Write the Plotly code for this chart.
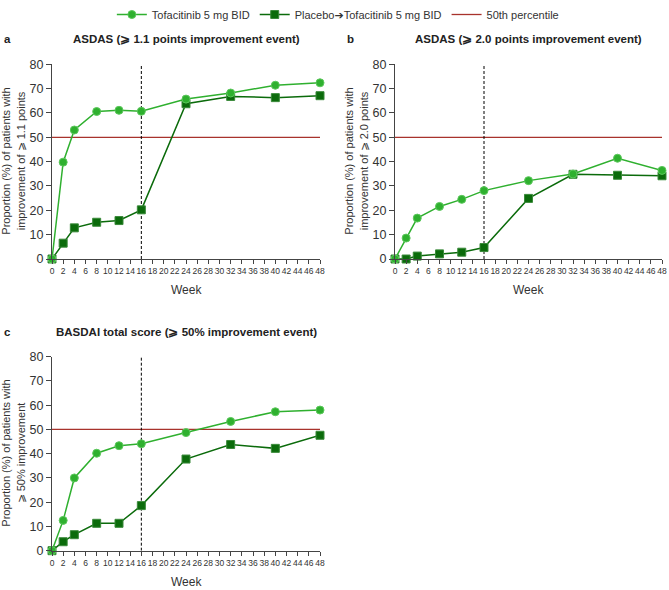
import plotly.graph_objects as go

weeks = [0, 2, 4, 8, 12, 16, 24, 32, 40, 48]

a_tofa = [0, 39.8, 53.0, 60.6, 61.1, 60.7, 65.7, 68.2, 71.4, 72.4]
a_plac = [0, 6.5, 12.8, 15.1, 15.8, 20.2, 63.8, 66.8, 66.3, 67.1]

b_tofa = [0, 8.6, 16.8, 21.6, 24.5, 28.1, 32.2, 34.9, 41.4, 36.4]
b_plac = [0, 0.0, 1.2, 2.1, 2.8, 4.7, 24.9, 34.8, 34.4, 34.2]

c_tofa = [0, 12.5, 30.0, 40.2, 43.3, 44.1, 48.7, 53.3, 57.3, 58.0]
c_plac = [0, 3.7, 6.6, 11.3, 11.3, 18.6, 37.8, 43.8, 42.2, 47.6]

x_ticks = list(range(0, 49, 2))
y_ticks = [0, 10, 20, 30, 40, 50, 60, 70, 80]
threshold = 50
cutoff_week = 16

series_names = ["Tofacitinib 5 mg BID",
                "Placebo<span style=\"font-family:'DejaVu Sans'\">\u2794</span>Tofacitinib 5 mg BID",
                "50th percentile"]
titles = ["ASDAS (\u2a7e 1.1 points improvement event)",
          "ASDAS (\u2a7e 2.0 points improvement event)",
          "BASDAI total score (\u2a7e 50% improvement event)"]
letters = ["a", "b", "c"]
ytitles = ["Proportion (%) of patients with<br>improvement of \u2a7e 1.1 points",
           "Proportion (%) of patients with<br>improvement of \u2a7e 2.0 points",
           "Proportion (%) of patients with<br>\u2a7e 50% improvement"]

LIGHT = "#2fb02f"
DARK = "#0b6b0b"
RED = "#a8332c"
AXC = "#444444"

W, H = 669, 590
fig = go.Figure()

panels = [
    (52, 320, 64.3, 259.0),
    (395, 662, 64.3, 259.0),
    (52, 320, 356.7, 550.7),
]
data = [(a_tofa, a_plac), (b_tofa, b_plac), (c_tofa, c_plac)]

for i, ((x0, x1, yt, yb), (tofa, plac)) in enumerate(zip(panels, data)):
    n = "" if i == 0 else str(i + 1)
    xa = "x" + n
    ya = "y" + n
    fig.add_trace(go.Scatter(x=[0, 48], y=[threshold, threshold], mode="lines",
                             line=dict(color=RED, width=1.3), name=series_names[2],
                             showlegend=(i == 0), legendrank=3, xaxis=xa, yaxis=ya,
                             hoverinfo="skip"))
    fig.add_trace(go.Scatter(x=[cutoff_week, cutoff_week], y=[0, 80], mode="lines",
                             line=dict(color="black", width=1, dash="3px,2px"),
                             showlegend=False, xaxis=xa, yaxis=ya, hoverinfo="skip"))
    fig.add_trace(go.Scatter(x=weeks, y=plac, mode="lines+markers", name=series_names[1],
                             line=dict(color=DARK, width=1.5),
                             marker=dict(symbol="square", size=8, color=DARK,
                                         line=dict(color="#3a8a3a", width=1)),
                             showlegend=(i == 0), legendrank=2, xaxis=xa, yaxis=ya,
                             cliponaxis=False))
    fig.add_trace(go.Scatter(x=weeks, y=tofa, mode="lines+markers", name=series_names[0],
                             line=dict(color=LIGHT, width=1.5),
                             marker=dict(symbol="circle", size=8, color=LIGHT,
                                         line=dict(color="#5cc85c", width=1)),
                             showlegend=(i == 0), legendrank=1, xaxis=xa, yaxis=ya,
                             cliponaxis=False))

    fig.layout["xaxis" + n] = dict(
        domain=[x0 / W, x1 / W], range=[0, 48], anchor=ya,
        tickvals=x_ticks, ticktext=[str(t) for t in x_ticks], tickangle=0,
        showline=True, linecolor=AXC, linewidth=1, ticks="outside", ticklen=4,
        tickcolor=AXC, tickfont=dict(size=8.5, color="#333333"), showgrid=False,
        zeroline=False, fixedrange=True, automargin=False)
    fig.layout["yaxis" + n] = dict(
        domain=[1 - yb / H, 1 - yt / H], range=[0, 80], anchor=xa,
        tickvals=y_ticks, showline=True, linecolor=AXC, linewidth=1,
        ticks="outside", ticklen=5, tickcolor=AXC,
        tickfont=dict(size=12.5, color="#333333"), showgrid=False, zeroline=False,
        fixedrange=True, automargin=False)

    cx = (x0 + x1) / 2
    fig.add_annotation(x=cx / W, y=1 - (yt - 25) / H, xref="paper", yref="paper",
                       text="<b>" + titles[i] + "</b>", showarrow=False,
                       font=dict(size=11.5, color="#222222"), xanchor="center", yanchor="middle")
    fig.add_annotation(x=(x0 - 50) / W, y=1 - (yt - 25) / H, xref="paper", yref="paper",
                       text="<b>" + letters[i] + "</b>", showarrow=False,
                       font=dict(size=11.5, color="#222222"), xanchor="left", yanchor="middle")
    fig.add_annotation(x=cx / W, y=1 - (yb + 31) / H, xref="paper", yref="paper",
                       text="Week", showarrow=False,
                       font=dict(size=12, color="#333333"), xanchor="center", yanchor="middle")
    fig.add_annotation(x=(x0 - 39) / W, y=1 - ((yt + yb) / 2) / H, xref="paper", yref="paper",
                       text=ytitles[i], showarrow=False, textangle=-90,
                       font=dict(size=11, color="#333333"), xanchor="center", yanchor="middle")

fig.update_layout(
    width=W, height=H, margin=dict(l=0, r=0, t=0, b=0, autoexpand=False),
    paper_bgcolor="white", plot_bgcolor="white",
    font=dict(family="Liberation Sans, Arial, sans-serif"),
    legend=dict(orientation="h", x=0.505, xanchor="center", y=1.0, yanchor="top",
                font=dict(size=11, color="#333333"), traceorder="normal",
                itemwidth=30, bgcolor="rgba(0,0,0,0)"),
)

fig.write_html("out.html", config={"displayModeBar": False},
               post_script="document.body.style.margin='0';document.body.style.padding='0';")
